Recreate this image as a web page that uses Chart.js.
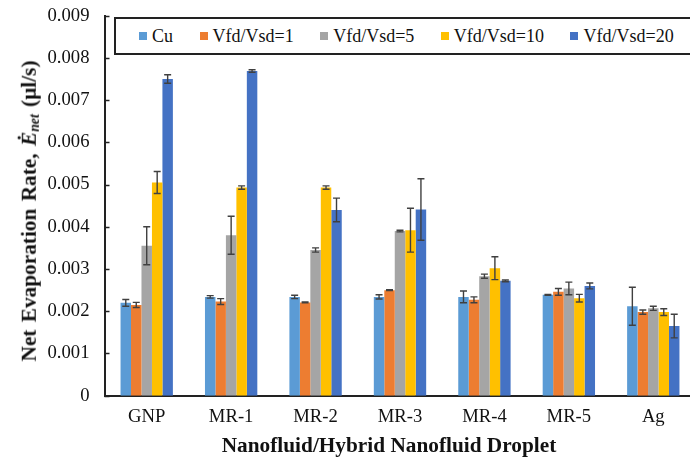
<!DOCTYPE html>
<html>
<head>
<meta charset="utf-8">
<script src="https://cdn.jsdelivr.net/npm/chart.js@4/dist/chart.umd.min.js"></script>
<style>
  html, body { margin: 0; padding: 0; background: #fff; overflow: hidden; }
  #wrap { position: relative; width: 690px; height: 460px; overflow: hidden; }
  #chart { position: absolute; left: 0; top: 0; }
  .serif { font-family: "Liberation Serif", "Times New Roman", serif; color: #111; }
  #legend {
    position: absolute; left: 114px; top: 17px; width: 600px; height: 38px;
    border: 2px solid #222; background: #fff; box-sizing: border-box;
    display: flex; align-items: center; padding-left: 23px;
  }
  .item { display: flex; align-items: center; margin-right: 26.5px; font-size: 18px; white-space: nowrap; }
  .swatch { width: 8px; height: 8px; margin-right: 5px; }
  #ytitle {
    position: absolute; left: 30px; top: 211px; white-space: nowrap;
    transform: translate(-50%, -50%) rotate(-90deg);
    font-weight: bold; font-size: 21.3px; word-spacing: 2px;
  }
  #ytitle sub { font-size: 0.65em; vertical-align: -0.25em; }
  #xtitle {
    position: absolute; left: 389px; top: 445px; white-space: nowrap;
    transform: translate(-50%, -50%);
    font-weight: bold; font-size: 21.3px;
  }
</style>
</head>
<body>
<div id="wrap">
  <canvas id="chart" width="700" height="460"></canvas>
  <div id="legend" class="serif"></div>
  <div id="ytitle" class="serif">Net Evaporation Rate, <i>&#278;</i><sub><i>net</i></sub> (&#956;l/s)</div>
  <div id="xtitle" class="serif">Nanofluid/Hybrid Nanofluid Droplet</div>
</div>
<script>
// Droplet types along the x axis
const categories = ['GNP', 'MR-1', 'MR-2', 'MR-3', 'MR-4', 'MR-5', 'Ag'];

// Series names and colours
const seriesLabels = ['Cu', 'Vfd/Vsd=1', 'Vfd/Vsd=5', 'Vfd/Vsd=10', 'Vfd/Vsd=20'];
const seriesColors = ['#5B9BD5', '#ED7D31', '#A5A5A5', '#FFC000', '#4472C4'];

// Mean net evaporation rate (µl/s)
const cu    = [0.00220, 0.00234, 0.00234, 0.00234, 0.00234, 0.00239, 0.00212];
const vfd1  = [0.00215, 0.00223, 0.00221, 0.00250, 0.00227, 0.00246, 0.00198];
const vfd5  = [0.00355, 0.00380, 0.00345, 0.00390, 0.00283, 0.00254, 0.00207];
const vfd10 = [0.00505, 0.00493, 0.00493, 0.00392, 0.00302, 0.00231, 0.00198];
const vfd20 = [0.00750, 0.00769, 0.00440, 0.00441, 0.00272, 0.00260, 0.00165];

// Standard deviation for each mean (µl/s)
const cuErr    = [0.00008, 0.00003, 0.00004, 0.00005, 0.00014, 0.00001, 0.00045];
const vfd1Err  = [0.00006, 0.00007, 0.00001, 0.00001, 0.00007, 0.00008, 0.00005];
const vfd5Err  = [0.00045, 0.00045, 0.00005, 0.00002, 0.00005, 0.00015, 0.00005];
const vfd10Err = [0.00026, 0.00004, 0.00004, 0.00052, 0.00027, 0.00009, 0.00008];
const vfd20Err = [0.00010, 0.00003, 0.00028, 0.00073, 0.00002, 0.00007, 0.00028];

// Y axis range and tick step
const yMin = 0, yMax = 0.009, yStep = 0.001;

const seriesValues = [cu, vfd1, vfd5, vfd10, vfd20];
const seriesErrors = [cuErr, vfd1Err, vfd5Err, vfd10Err, vfd20Err];

const SERIF = '"Liberation Serif", "Times New Roman", serif';

// legend
const legend = document.getElementById('legend');
seriesLabels.forEach((name, i) => {
  const item = document.createElement('div');
  item.className = 'item';
  const sw = document.createElement('span');
  sw.className = 'swatch';
  sw.style.background = seriesColors[i];
  const tx = document.createElement('span');
  tx.textContent = name;
  item.appendChild(sw);
  item.appendChild(tx);
  legend.appendChild(item);
});

// error bars with caps, plus inward tick marks on the value axis
const errorBars = {
  id: 'errorBars',
  afterDatasetsDraw(chart) {
    const ctx = chart.ctx;
    const ys = chart.scales.y;
    ctx.save();
    ctx.strokeStyle = '#404040';
    ctx.lineWidth = 1.4;
    chart.data.datasets.forEach((ds, i) => {
      const meta = chart.getDatasetMeta(i);
      meta.data.forEach((bar, j) => {
        const v = ds.data[j], e = ds.errors[j];
        const x = bar.x;
        const y1 = ys.getPixelForValue(v + e);
        const y2 = ys.getPixelForValue(v - e);
        ctx.beginPath();
        ctx.moveTo(x, y1); ctx.lineTo(x, y2);
        ctx.moveTo(x - 3.5, y1); ctx.lineTo(x + 3.5, y1);
        ctx.moveTo(x - 3.5, y2); ctx.lineTo(x + 3.5, y2);
        ctx.stroke();
      });
    });
    ctx.restore();
  },
  afterDraw(chart) {
    const ctx = chart.ctx;
    const ys = chart.scales.y;
    const left = chart.chartArea.left;
    ctx.save();
    ctx.strokeStyle = '#222';
    ctx.lineWidth = 1.5;
    ys.ticks.forEach(t => {
      const y = Math.round(ys.getPixelForValue(t.value)) + 0.5;
      ctx.beginPath();
      ctx.moveTo(left, y); ctx.lineTo(left + 5, y);
      ctx.stroke();
    });
    ctx.restore();
  }
};

new Chart(document.getElementById('chart'), {
  type: 'bar',
  data: {
    labels: categories,
    datasets: seriesLabels.map((name, i) => ({
      label: name,
      data: seriesValues[i],
      errors: seriesErrors[i],
      backgroundColor: seriesColors[i],
      borderWidth: 0,
      categoryPercentage: 0.62,
      barPercentage: 1.0
    }))
  },
  options: {
    responsive: false,
    animation: false,
    devicePixelRatio: 1,
    layout: { padding: { top: 15.7, right: 4.5, left: 0, bottom: 0 } },
    plugins: { legend: { display: false }, tooltip: { enabled: false } },
    scales: {
      x: {
        grid: { display: false, drawTicks: false },
        border: { display: true, color: '#222', width: 2 },
        ticks: { font: { family: SERIF, size: 18.67 }, color: '#111', padding: 10, maxRotation: 0 },
        afterFit(scale) { scale.height = 64.3; scale.paddingLeft = 0; scale.paddingRight = 0; }
      },
      y: {
        min: yMin, max: yMax,
        grid: { display: false, drawTicks: false },
        border: { display: true, color: '#222', width: 2 },
        ticks: {
          stepSize: yStep,
          font: { family: SERIF, size: 18.67 }, color: '#111', padding: 15,
          callback: v => (Math.abs(v) < 1e-12 ? '0' : v.toFixed(3))
        },
        afterFit(scale) { scale.width = 104.5; scale.paddingTop = 0; scale.paddingBottom = 0; }
      }
    }
  },
  plugins: [errorBars]
});
</script>
</body>
</html>
